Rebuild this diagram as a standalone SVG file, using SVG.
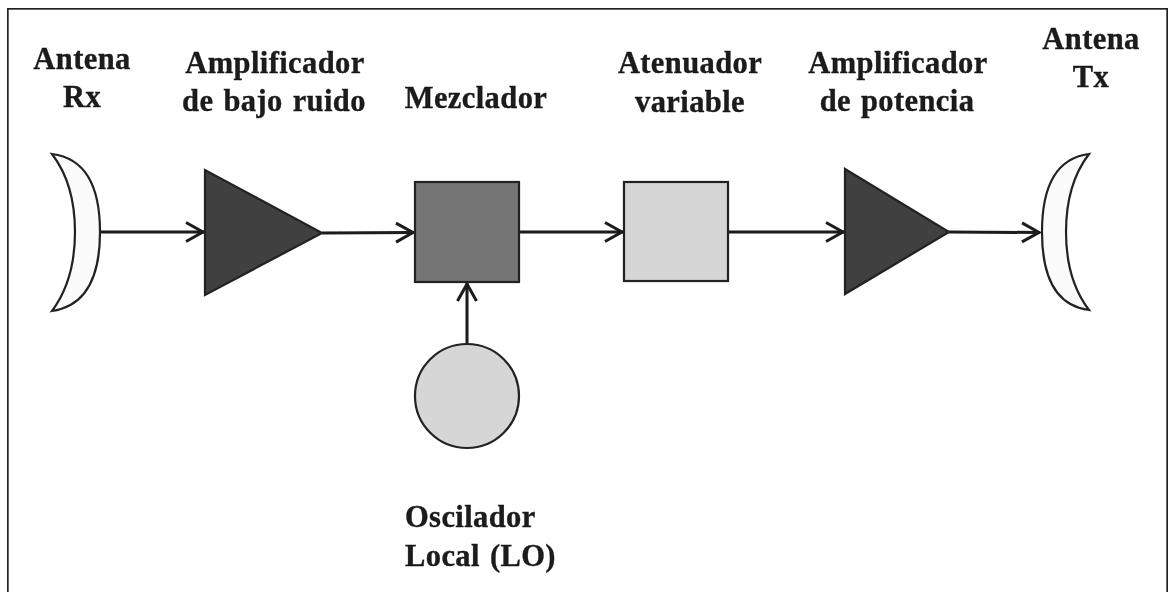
<svg xmlns="http://www.w3.org/2000/svg" width="1169" height="592" viewBox="0 0 1169 592">
<style>
text{font-family:"Liberation Serif","Times New Roman",serif;font-weight:bold;font-size:30.5px;fill:#1a1a1a;stroke:#1a1a1a;stroke-width:.35;letter-spacing:.4px;word-spacing:2px}
.m{text-anchor:middle}
.s{stroke:#222;stroke-width:2.2}
.c{fill:none;stroke:#1a1a1a;stroke-width:3}
</style>
<defs>
<filter id="b" x="0" y="0" width="100%" height="100%"><feGaussianBlur stdDeviation="0.5"/></filter>
<marker id="a" markerUnits="userSpaceOnUse" markerWidth="22" markerHeight="24" refX="20" refY="12" orient="auto">
<path d="M2 2.500L19 12L2 21.500" fill="none" stroke="#1a1a1a" stroke-width="3"/>
</marker>
</defs>
<rect width="1169" height="592" fill="#fff"/>
<g filter="url(#b)">
<rect id="frame" x="7.500" y="8.500" width="1160" height="590" fill="none" stroke="#222" stroke-width="2.400"/>
<g id="connectors">
<path class="c" d="M100 232H204" marker-end="url(#a)"/>
<path class="c" d="M322 233L414 232.500" marker-end="url(#a)"/>
<path class="c" d="M519 232H623" marker-end="url(#a)"/>
<path class="c" d="M728 232H844" marker-end="url(#a)"/>
<path class="c" d="M949 232L1040 232.500" marker-end="url(#a)"/>
<path class="c" d="M467 344V283" marker-end="url(#a)"/>
</g>
<g id="antena-rx"><path class="s" fill="#fbfbfb" d="M52 154Q100 160 100 232Q100 304 52 311Q75 280 75 232Q75 184 52 154Z"/><text class="m" x="82" y="69">Antena</text><text class="m" x="82" y="107">Rx</text></g>
<g id="lna"><path class="s" fill="#404040" d="M205 170V295L322 233Z"/><text class="m" x="275" y="73">Amplificador</text><text class="m" x="274" y="111">de bajo ruido</text></g>
<g id="mezclador"><rect class="s" x="415" y="182" width="104" height="100" fill="#757575"/><text class="m" x="476" y="108">Mezclador</text></g>
<g id="atenuador"><rect class="s" x="624" y="182" width="104" height="99" fill="#d6d6d6"/><text class="m" x="690" y="73">Atenuador</text><text class="m" x="690" y="112">variable</text></g>
<g id="pa"><path class="s" fill="#404040" d="M845 169V294L949 232Z"/><text class="m" x="898" y="73">Amplificador</text><text class="m" x="897" y="111">de potencia</text></g>
<g id="antena-tx"><path class="s" fill="#fbfbfb" d="M1089 154Q1042 160 1042 232Q1042 304 1089 310Q1066 280 1066 232Q1066 184 1089 154Z"/><text class="m" x="1091" y="49">Antena</text><text class="m" x="1091" y="87">Tx</text></g>
<g id="oscilador"><circle class="s" cx="467" cy="396" r="52" fill="#d6d6d6"/><text x="405" y="527">Oscilador</text><text x="405" y="566">Local (LO)</text></g>
</g>
</svg>
